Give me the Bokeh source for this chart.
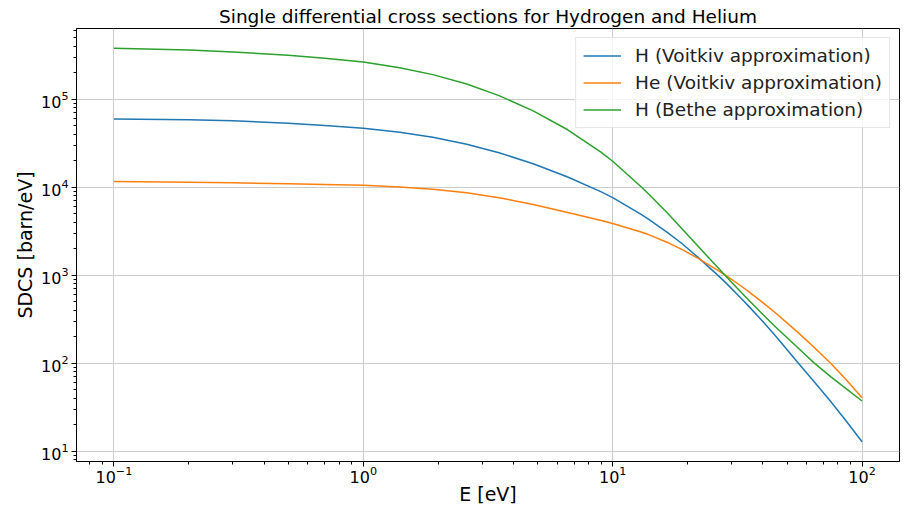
import math
from bokeh.plotting import figure
from bokeh.models import Range1d
from bokeh.embed import file_html
from bokeh.resources import INLINE

# Energy grid (eV)
energy = [0.1, 0.2, 0.3, 0.5, 0.7, 1, 1.4, 1.9, 2.6, 3.5, 4.8, 6.6, 9, 10, 13, 14,
          16.5, 19, 22, 26.5, 28.5, 32.5, 35, 40, 45, 55, 64, 75, 86, 100]

# SDCS values (barn/eV)
h_voitkiv = [5.947e4, 5.84e4, 5.69e4, 5.304e4, 4.995e4, 4.66e4, 4.198e4, 3.677e4, 3.065e4,
             2.458e4, 1.842e4, 1.304e4, 8.83e3, 7.61e3, 4.893e3, 4.274e3, 3.088e3, 2.273e3,
             1.59e3, 989, 812, 558, 448, 297, 204, 103, 62.5, 36.4, 22.4, 12.8]
he_voitkiv = [1.157e4, 1.136e4, 1.121e4, 1.092e4, 1.073e4, 1.05e4, 1.0e4, 9.47e3, 8.65e3,
              7.59e3, 6.35e3, 5.15e3, 4.17e3, 3.86e3, 3.093e3, 2.872e3, 2.369e3, 1.95e3,
              1.551e3, 1.126e3, 986, 763, 654, 488, 372, 227, 153, 99.1, 65.7, 40.6]
h_bethe = [3.784e5, 3.611e5, 3.428e5, 3.146e5, 2.917e5, 2.636e5, 2.267e5, 1.895e5, 1.481e5,
           1.095e5, 7.34e4, 4.479e4, 2.477e4, 1.966e4, 1.010e4, 8.25e3, 5.14e3, 3.348e3,
           2.125e3, 1.203e3, 964, 653, 526, 358, 258, 151.6, 101.6, 70.0, 51.7, 37.2]

labels = ["H (Voitkiv approximation)", "He (Voitkiv approximation)", "H (Bethe approximation)"]
colors = ["#1f77b4", "#ff7f0e", "#2ca02c"]
series = [h_voitkiv, he_voitkiv, h_bethe]

FONT = "DejaVu Sans"

# log ranges with 5% padding (matplotlib style)
def log_range(vals):
    lo, hi = math.log10(min(vals)), math.log10(max(vals))
    pad = 0.05 * (hi - lo)
    return Range1d(10 ** (lo - pad), 10 ** (hi + pad))

all_y = h_voitkiv + he_voitkiv + h_bethe

p = figure(width=904, height=507, x_axis_type="log", y_axis_type="log",
           x_range=log_range(energy), y_range=log_range(all_y),
           output_backend="svg", toolbar_location=None,
           title="Single differential cross sections for Hydrogen and Helium")

p.min_border_left = 76
p.min_border_right = 5
p.min_border_top = 28
p.min_border_bottom = 44

p.title.text_font = FONT
p.title.text_font_size = "18.5px"
p.title.text_font_style = "normal"
p.title.text_color = "black"
p.title.align = "center"
p.title.standoff = 3

for ys, lab, c in zip(series, labels, colors):
    p.line(energy, ys, line_color=c, line_width=1.5, legend_label=lab,
           line_join="round")

p.outline_line_color = "black"
p.outline_line_width = 1
p.outline_line_alpha = 1

for ax in (p.xaxis[0], p.yaxis[0]):
    ax.axis_line_color = "black"
    ax.major_tick_line_color = "black"
    ax.minor_tick_line_color = "black"
    ax.major_tick_in = 0
    ax.major_tick_out = 5
    ax.minor_tick_in = 0
    ax.minor_tick_out = 3
    ax.major_label_text_font = FONT
    ax.major_label_text_font_size = "16px"
    ax.major_label_text_color = "black"
    ax.axis_label_text_font = FONT
    ax.axis_label_text_font_size = "19px"
    ax.axis_label_text_font_style = "normal"
    ax.axis_label_text_color = "black"

p.xaxis.major_label_standoff = -1
p.xaxis.axis_label_standoff = -3
p.yaxis.major_label_standoff = 3
p.yaxis.axis_label_standoff = 2

p.xaxis.axis_label = "E [eV]"
p.yaxis.axis_label = "SDCS [barn/eV]"

p.xgrid.grid_line_color = "#cccccc"
p.ygrid.grid_line_color = "#cccccc"
p.xgrid.grid_line_width = 1
p.ygrid.grid_line_width = 1

leg = p.legend[0]
leg.location = "top_right"
leg.margin = 9
leg.padding = 7
leg.spacing = 6
leg.glyph_width = 38
leg.glyph_height = 21
leg.label_height = 21
leg.label_standoff = 14
leg.label_text_font = FONT
leg.label_text_font_size = "18.5px"
leg.label_text_color = "#222222"
leg.border_line_color = "#cccccc"
leg.border_line_width = 1
leg.background_fill_color = "white"
leg.background_fill_alpha = 0.8

open("out.html", "w").write(file_html(p, INLINE))
